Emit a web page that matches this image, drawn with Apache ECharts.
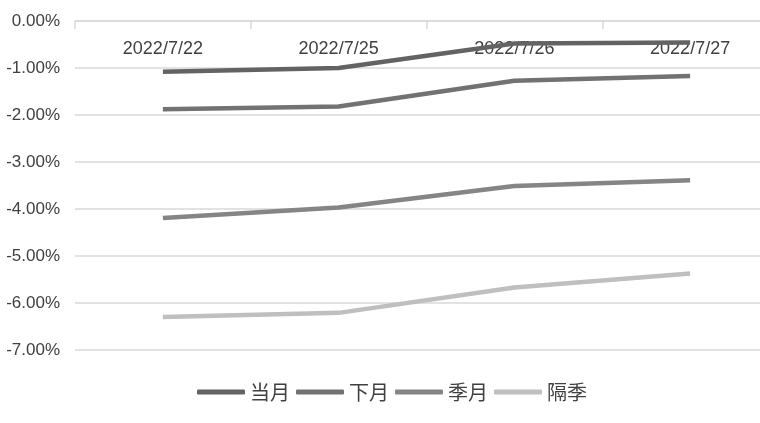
<!DOCTYPE html>
<html>
<head>
	<meta charset="UTF-8">
	<title>基差率</title>
	<script type="text/javascript" src="https://cdn.jsdelivr.net/npm/echarts@6/dist/echarts.min.js"></script>
	<style>
		html, body { margin: 0; padding: 0; background: #fff; }
		#show { width: 760px; height: 423px; }
	</style>
</head>
<body>
<div id="show"></div>
<script type="text/javascript">
	// 数据 (单位: %)
	var dates = ['2022/7/22', '2022/7/25', '2022/7/26', '2022/7/27'];
	var seriesNames = ['当月', '下月', '季月', '隔季'];
	var dangyue = [-1.08, -1.00, -0.48, -0.46];
	var xiayue  = [-1.88, -1.82, -1.27, -1.17];
	var jiyue   = [-4.19, -3.97, -3.51, -3.39];
	var geji    = [-6.30, -6.21, -5.67, -5.37];
	var colors = ['#636363', '#727272', '#858585', '#bfbfbf'];

	var myChart = echarts.init(document.getElementById('show'));

	var allData = [dangyue, xiayue, jiyue, geji];
	var series = seriesNames.map(function (name, i) {
		return {
			name: name,
			type: 'line',
			data: allData[i],
			symbol: 'none',
			smooth: false,
			lineStyle: { width: 4.5, color: colors[i] },
			itemStyle: { color: colors[i] }
		};
	});

	option = {
		animation: false,
		color: colors,
		// 绘图区右侧超出画面
		grid: { left: 75, width: 703, top: 21, bottom: 73, outerBoundsMode: 'none' },
		legend: {
			data: seriesNames,
			left: 192,
			bottom: 16,
			itemWidth: 48,
			itemHeight: 5,
			itemGap: 6,
			icon: 'roundRect',
			textStyle: { fontSize: 20, color: '#404040', fontFamily: 'Noto Sans CJK SC' }
		},
		xAxis: {
			type: 'category',
			position: 'top',
			data: dates,
			boundaryGap: true,
			axisLine: { lineStyle: { color: '#d9d9d9', width: 1.5 } },
			axisTick: { show: true, inside: true, length: 8, lineStyle: { color: '#d9d9d9', width: 1.5 } },
			axisLabel: {
				inside: true,
				margin: 19,
				fontSize: 18,
				color: '#404040',
				fontFamily: 'Liberation Sans'
			},
			z: 1
		},
		yAxis: {
			type: 'value',
			min: -7,
			max: 0,
			interval: 1,
			axisLine: { show: false },
			axisTick: { show: false },
			splitLine: { lineStyle: { color: '#d9d9d9', width: 1.5 } },
			axisLabel: {
				margin: 15,
				fontSize: 17,
				color: '#404040',
				fontFamily: 'Liberation Sans',
				formatter: function (v) { return v.toFixed(2) + '%'; }
			}
		},
		series: series
	};

	myChart.setOption(option);
</script>
</body>
</html>
